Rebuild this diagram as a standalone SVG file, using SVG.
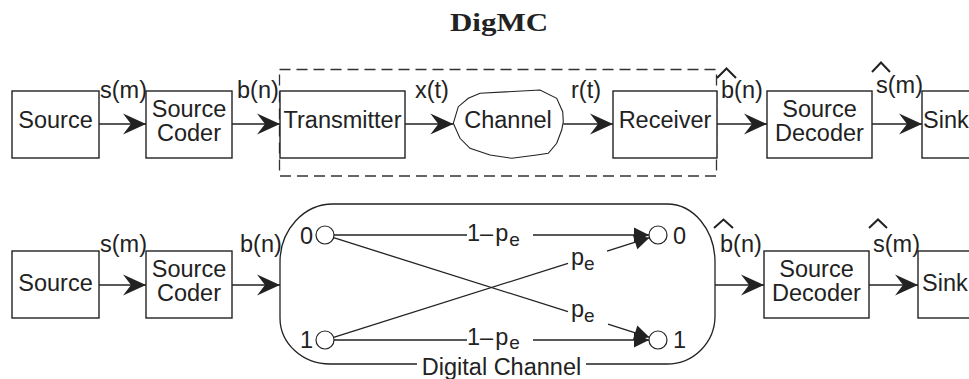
<svg xmlns="http://www.w3.org/2000/svg" width="969" height="379" viewBox="0 0 969 379">
<defs>
<style>
.box{fill:#fff;stroke:#222;stroke-width:1.4}
.t{font-family:"Liberation Sans",Arial,sans-serif;font-size:23.5px;fill:#222}
.c{text-anchor:middle}
.e{text-anchor:end}
.ln{stroke:#222;stroke-width:1.3;fill:none}
.arr{marker-end:url(#ah)}
.tri{marker-end:url(#th)}
.hat{stroke:#222;stroke-width:2;fill:none}
.dot{fill:#fff;stroke:#222;stroke-width:1.2}
</style>
<marker id="ah" markerUnits="userSpaceOnUse" viewBox="-25 -12 26 24" refX="0" refY="0" markerWidth="26" markerHeight="24" orient="auto">
<path d="M0,0 L-23,-10.5 L-15,0 L-23,10.5 Z" fill="#222"/>
</marker>
<marker id="th" markerUnits="userSpaceOnUse" viewBox="-16 -8 17 16" refX="0" refY="0" markerWidth="17" markerHeight="16" orient="auto">
<path d="M0,0 L-15,-7.5 L-15,7.5 Z" fill="#222"/>
</marker>
</defs>
<rect width="969" height="379" fill="#fff"/>

<text x="499" y="31" text-anchor="middle" font-family="Liberation Serif, serif" font-weight="bold" font-size="25" fill="#222" textLength="98" lengthAdjust="spacingAndGlyphs">DigMC</text>

<!-- top row -->
<g id="tx-rx-frame">
<rect x="279.5" y="69.5" width="437" height="106.5" fill="none" stroke="#333" stroke-width="1.3" stroke-dasharray="11 6"/>
</g>
<g id="source1"><rect class="box" x="12" y="91" width="87" height="67"/><text class="t c" x="55.5" y="128">Source</text></g>
<g id="coder1"><rect class="box" x="146" y="91" width="86" height="67"/><text class="t c" x="189" y="117">Source</text><text class="t c" x="189" y="141">Coder</text></g>
<g id="transmitter"><rect class="box" x="280" y="91" width="125" height="67"/><text class="t c" x="342.5" y="128">Transmitter</text></g>
<g id="channel"><polygon fill="#fff" stroke="#222" stroke-width="1.1" points="453.3,123.3 458.3,106.7 468.3,98.3 480,93.3 540,90 556.7,98.3 562.7,111.7 563.3,121.7 561.7,130 556.7,143.3 548.3,153.3 536.7,155 511.7,158.3 490,155 470,148.3 460,138.3"/><text class="t c" x="508" y="128">Channel</text></g>
<g id="receiver"><rect class="box" x="613" y="91" width="104" height="67"/><text class="t c" x="665" y="128">Receiver</text></g>
<g id="decoder1"><rect class="box" x="767" y="91" width="105" height="67"/><text class="t c" x="819.5" y="117">Source</text><text class="t c" x="819.5" y="141">Decoder</text></g>
<g id="sink1"><rect class="box" x="922" y="91" width="100" height="67"/><text class="t" x="923" y="128">Sink</text></g>

<!-- bottom row -->
<g id="source2"><rect class="box" x="12" y="251" width="87" height="67"/><text class="t c" x="55.5" y="291">Source</text></g>
<g id="coder2"><rect class="box" x="146" y="251" width="86" height="67"/><text class="t c" x="189" y="277">Source</text><text class="t c" x="189" y="301">Coder</text></g>
<g id="digital-channel">
<path class="ln" d="M417,364 H330 A50,46 0 0 1 280,318 V262 A53,58 0 0 1 333,204 H667 A48,58 0 0 1 715,262 V316 A48,48 0 0 1 667,364 H586"/>
<text class="t c" x="501.5" y="375">Digital Channel</text>
<g id="in0"><circle class="dot" cx="325" cy="235" r="9"/><text class="t e" x="313" y="244">0</text></g>
<g id="in1"><circle class="dot" cx="325" cy="340" r="9"/><text class="t e" x="313" y="348">1</text></g>
<g id="out0"><circle class="dot" cx="658" cy="235" r="9"/><text class="t" x="673" y="244">0</text></g>
<g id="out1"><circle class="dot" cx="658" cy="340" r="9"/><text class="t" x="673" y="348">1</text></g>
</g>
<g id="decoder2"><rect class="box" x="764" y="251" width="105" height="67"/><text class="t c" x="816.5" y="277">Source</text><text class="t c" x="816.5" y="301">Decoder</text></g>
<g id="sink2"><rect class="box" x="918" y="251" width="100" height="67"/><text class="t" x="922" y="291">Sink</text></g>

<g id="connectors">
<!-- top row -->
<line class="ln arr" x1="99" y1="124" x2="146" y2="124"/>
<line class="ln arr" x1="232" y1="124" x2="280" y2="124"/>
<line class="ln arr" x1="405" y1="124" x2="453.3" y2="124"/>
<line class="ln arr" x1="563.3" y1="124" x2="613" y2="124"/>
<line class="ln arr" x1="717" y1="124" x2="767" y2="124"/>
<line class="ln arr" x1="872" y1="124" x2="922" y2="124"/>
<text class="t" x="100" y="98">s(m)</text>
<text class="t" x="237" y="98">b(n)</text>
<text class="t" x="415" y="98">x(t)</text>
<text class="t" x="571" y="98">r(t)</text>
<text class="t" x="721" y="98">b(n)</text>
<polyline class="hat" points="717,78 726.5,68.5 736,78"/>
<text class="t" x="876" y="93">s(m)</text>
<polyline class="hat" points="872,72 881,62.5 890,72"/>

<!-- bottom row -->
<line class="ln arr" x1="99" y1="285" x2="146" y2="285"/>
<line class="ln arr" x1="232" y1="285" x2="280" y2="285"/>
<line class="ln arr" x1="715" y1="285" x2="764" y2="285"/>
<line class="ln arr" x1="869" y1="285" x2="918" y2="285"/>
<text class="t" x="100" y="252">s(m)</text>
<text class="t" x="240" y="252">b(n)</text>
<text class="t" x="720" y="252">b(n)</text>
<polyline class="hat" points="714,228 723.5,219.5 733,228"/>
<text class="t" x="873" y="252">s(m)</text>
<polyline class="hat" points="869,228 878,219.5 887,228"/>

<!-- channel transitions -->
<line class="ln" x1="334" y1="235" x2="467" y2="235"/>
<line class="ln tri" x1="533" y1="235" x2="649" y2="235"/>
<text class="t" x="467" y="241">1–<tspan dx="2">p</tspan><tspan dx="1" dy="5" font-size="19">e</tspan></text>

<line class="ln" x1="334" y1="340" x2="467" y2="340"/>
<line class="ln tri" x1="533" y1="340" x2="649" y2="340"/>
<text class="t" x="467" y="345">1–<tspan dx="2">p</tspan><tspan dx="1" dy="4" font-size="19">e</tspan></text>

<line class="ln" x1="333.6" y1="237.7" x2="568" y2="311.6"/>
<line class="ln tri" x1="608" y1="324.2" x2="649.4" y2="337.3"/>
<text class="t" x="571" y="317">p<tspan dy="5" font-size="19">e</tspan></text>

<line class="ln" x1="333.6" y1="337.3" x2="568" y2="263.4"/>
<line class="ln tri" x1="607" y1="251.1" x2="649.4" y2="237.7"/>
<text class="t" x="571" y="265">p<tspan dy="5" font-size="19">e</tspan></text>
</g>
</svg>
